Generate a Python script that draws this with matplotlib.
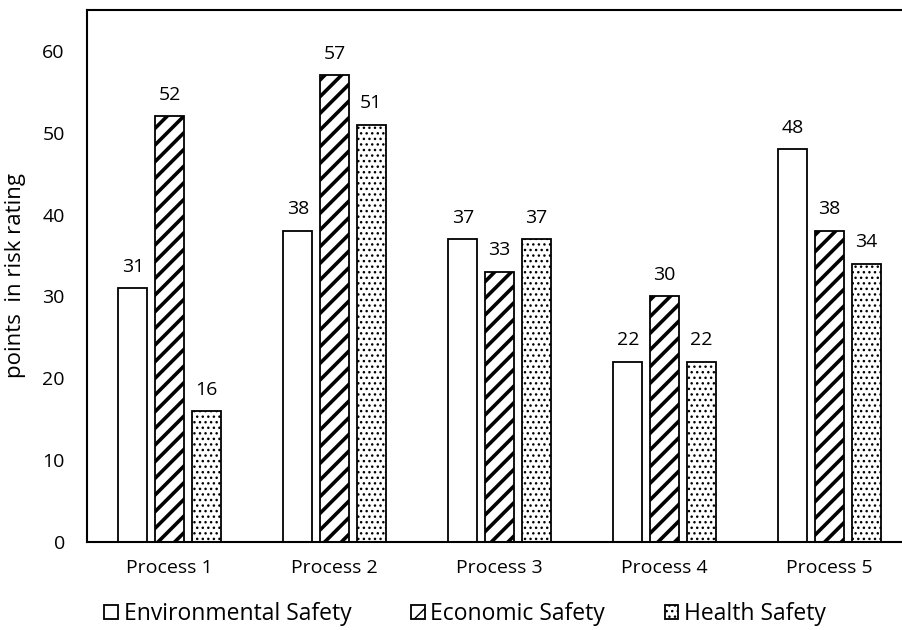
import matplotlib.pyplot as plt
import numpy as np

processes = ['Process 1', 'Process 2', 'Process 3', 'Process 4', 'Process 5']
environmental = [31, 38, 37, 22, 48]
economic = [52, 57, 33, 30, 38]
health = [16, 51, 37, 22, 34]

series_names = ['Environmental Safety', 'Economic Safety', 'Health Safety']
hatches = ['', '//', '...']

plt.rcParams['font.family'] = ['Open Sans', 'DejaVu Sans']
plt.rcParams['font.size'] = 14

fig = plt.figure(figsize=(9.03, 6.3), dpi=100)
ax = fig.add_axes([87/903, 1 - 542/630, 825/903, 532/630])

x = np.arange(len(processes))
width = 0.176
step = 0.222

for i, (vals, name, h) in enumerate(zip([environmental, economic, health], series_names, hatches)):
    lw_hatch = 2.6 if '/' in h else 1.0
    with plt.rc_context({'hatch.linewidth': lw_hatch, 'hatch.color': 'black'}):
        bars = ax.bar(x + (i - 1) * step, vals, width, color='white', edgecolor='black',
                      linewidth=1.3, hatch=h, label=name)
        for b in bars:
            if hasattr(b, 'set_hatch_linewidth'):
                b.set_hatch_linewidth(lw_hatch)
    for b, v in zip(bars, vals):
        ax.annotate(str(v), (b.get_x() + b.get_width() / 2, v), xytext=(0, 9),
                    textcoords='offset points', ha='center', va='bottom')

ax.set_xlim(-0.5, 4.5)
ax.set_ylim(0, 65)
ax.set_yticks(range(0, 61, 10))
ax.set_xticks(x)
ax.set_xticklabels(processes)
ax.tick_params(length=0, pad=16)
ax.tick_params(axis='x', pad=12)
ax.set_ylabel('points  in risk rating', labelpad=12, fontsize=16)
for s in ['left', 'top', 'bottom', 'right']:
    ax.spines[s].set_linewidth(1.5)

fig.legend(loc='center', bbox_to_anchor=(465/903, 1 - 614/630), ncol=3, frameon=False,
           handlelength=0.6, handleheight=0.6, handletextpad=0.25, columnspacing=2.6,
           fontsize=16.5)

fig.savefig('out.png', dpi=100)
